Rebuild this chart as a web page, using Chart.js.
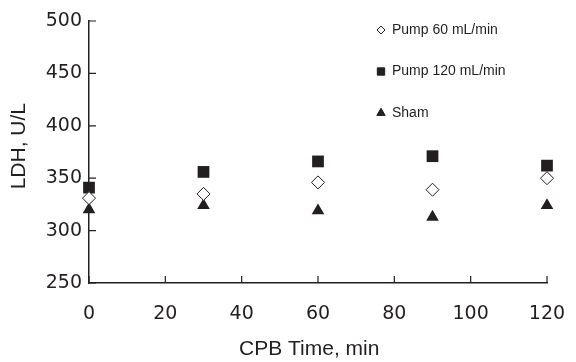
<!DOCTYPE html>
<html>
<head>
<meta charset="utf-8">
<script src="https://cdn.jsdelivr.net/npm/chart.js@4"></script>
<style>
    html, body { margin: 0; padding: 0; background: #fff; }
    canvas { display: block; }
</style>
</head>
<body>
<canvas id="chart" width="576" height="362"></canvas>
<script>
const times = [0, 30, 60, 90, 120]
const pump60 = [331, 335, 346, 339, 350]
const pump120 = [341, 356, 366, 371, 362]
const sham = [320, 324, 319, 313, 324]
const seriesNames = ['Pump 60 mL/min', 'Pump 120 mL/min', 'Sham']

const ink = '#231f20'
const tickFont = {family: 'DejaVu Sans', size: 19}
const titleFont = {family: 'Liberation Sans', size: 21}

const toPoints = (values) => times.map((t, i) => ({x: t, y: values[i]}))

// the original figure has its tick marks pointing into the plot
const innerTicks = {
    id: 'innerTicks',
    beforeDatasetsDraw(chart) {
        const ctx = chart.ctx
        const {x, y} = chart.scales
        const len = 7
        ctx.save()
        ctx.strokeStyle = ink
        ctx.lineWidth = 1.2
        ctx.beginPath()
        for (let t of x.ticks) {
            const px = x.getPixelForValue(t.value)
            ctx.moveTo(px, y.bottom)
            ctx.lineTo(px, y.bottom - len)
        }
        for (let t of y.ticks) {
            const py = y.getPixelForValue(t.value)
            ctx.moveTo(x.left, py)
            ctx.lineTo(x.left + len, py)
        }
        ctx.stroke()
        ctx.restore()
    }
}

// legend sits inside the plot, top right, one item per row
const cornerLegend = {
    id: 'cornerLegend',
    afterDraw(chart) {
        const ctx = chart.ctx
        const area = chart.chartArea
        const sizes = [4, 5.2, 4.8]
        ctx.save()
        ctx.font = '14px "Liberation Sans", Arial, sans-serif'
        ctx.textBaseline = 'middle'
        chart.data.datasets.forEach((ds, i) => {
            const mx = area.right - 166
            const my = area.top + 9 + i * 41.5
            ctx.fillStyle = ds.pointBackgroundColor
            ctx.strokeStyle = ds.pointBorderColor
            ctx.lineWidth = 1
            Chart.helpers.drawPoint(ctx, {pointStyle: ds.pointStyle, radius: sizes[i], borderWidth: 1, rotation: 0}, mx, my)
            ctx.fillStyle = ink
            ctx.fillText(ds.label, mx + 11, my)
        })
        ctx.restore()
    }
}

new Chart(document.getElementById('chart'), {
    type: 'scatter',
    data: {
        datasets: [
            {
                label: seriesNames[0],
                data: toPoints(pump60),
                pointStyle: 'rectRot',
                pointRadius: 6.5,
                pointHoverRadius: 6.5,
                pointBackgroundColor: '#ffffff',
                pointBorderColor: ink,
                pointBorderWidth: 1,
                clip: false
            },
            {
                label: seriesNames[1],
                data: toPoints(pump120),
                pointStyle: 'rect',
                pointRadius: 8.3,
                pointHoverRadius: 8.3,
                pointBackgroundColor: ink,
                pointBorderColor: ink,
                pointBorderWidth: 0,
                clip: false
            },
            {
                label: seriesNames[2],
                data: toPoints(sham),
                pointStyle: 'triangle',
                pointRadius: 7.3,
                pointHoverRadius: 7.3,
                pointBackgroundColor: ink,
                pointBorderColor: ink,
                pointBorderWidth: 0,
                clip: false
            }
        ]
    },
    options: {
        responsive: false,
        animation: false,
        devicePixelRatio: 1,
        layout: {padding: {top: 21, right: 29, left: 0, bottom: 0}},
        plugins: {
            legend: {display: false},
            tooltip: {enabled: false}
        },
        scales: {
            x: {
                type: 'linear',
                min: 0,
                max: 120,
                ticks: {stepSize: 20, color: ink, font: tickFont, padding: 20, maxRotation: 0},
                grid: {drawOnChartArea: false, drawTicks: false},
                border: {color: ink, width: 1.5},
                title: {display: true, text: 'CPB Time, min   ', color: ink, font: titleFont, padding: {top: 0, bottom: 0}},
                afterFit: (s) => {
                    s.height = 79
                    s.paddingLeft = 0
                    s.paddingRight = 0
                }
            },
            y: {
                min: 250,
                max: 500,
                ticks: {stepSize: 50, color: ink, font: tickFont, padding: 7},
                grid: {drawOnChartArea: false, drawTicks: false},
                border: {color: ink, width: 1.5},
                title: {display: true, text: '  LDH, U/L', color: ink, font: titleFont, padding: {top: 7, bottom: 0}},
                afterFit: (s) => { s.width = 89 }
            }
        }
    },
    plugins: [innerTicks, cornerLegend]
})
</script>
</body>
</html>
